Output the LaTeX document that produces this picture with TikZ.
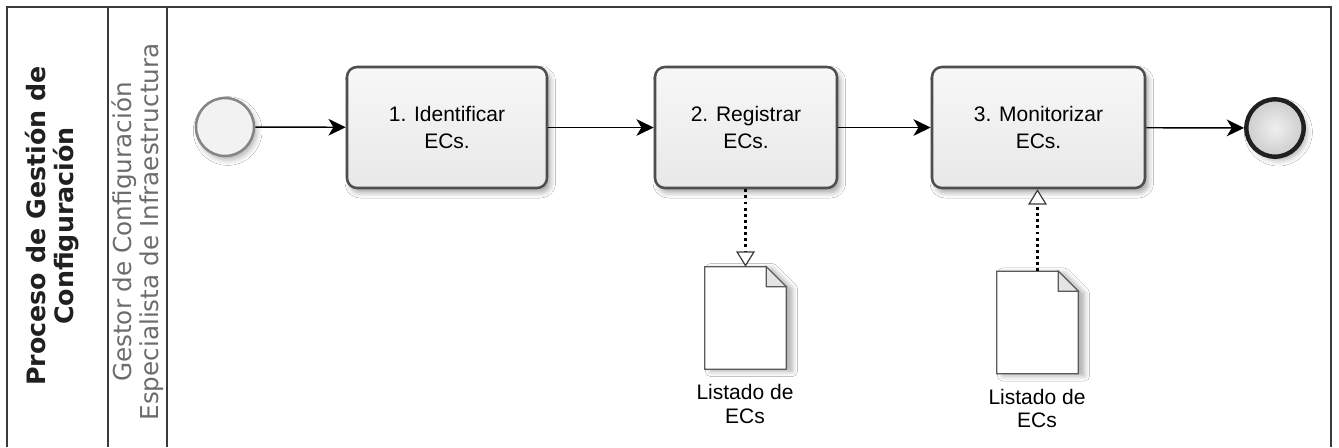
\documentclass[tikz,border=0pt]{standalone}
\usepackage{fontspec}
\setmainfont{Liberation Sans}
\newfontfamily\lanefont{DejaVu Sans}
\usetikzlibrary{arrows.meta,shadows.blur}

\definecolor{laneline}{HTML}{3A3A3A}
\definecolor{taskline}{HTML}{4E4E4E}
\definecolor{rolegray}{HTML}{6C6C6C}
\definecolor{titledark}{HTML}{202020}
\definecolor{docline}{HTML}{5A5A5A}
\definecolor{foldfill}{HTML}{E4E4E4}

\tikzset{
  lanerule/.style={draw=laneline, line width=1.5pt},
  tasklbl/.style={font=\fontsize{15.75pt}{20.25pt}\selectfont, align=center},
  taskbox/.style={rectangle, rounded corners=7.5pt, draw=taskline, line width=1.9pt,
    top color=white!97!black, bottom color=white!91!black, inner sep=0pt,
    minimum height=90.75pt, tasklbl,
    blur shadow={shadow xshift=2.5pt, shadow yshift=-3.5pt, shadow blur radius=4pt, shadow opacity=35}},
  startev/.style={circle, draw=white!52!black, line width=1.9pt, fill=white!95!black,
    minimum size=43.5pt, inner sep=0pt,
    blur shadow={shadow xshift=2pt, shadow yshift=-3pt, shadow blur radius=4pt, shadow opacity=30}},
  endev/.style={circle, draw=titledark, line width=3.3pt, inner color=white!94!black,
    outer color=white!80!black, minimum size=43pt, inner sep=0pt,
    blur shadow={shadow xshift=2.5pt, shadow yshift=-3pt, shadow blur radius=4pt, shadow opacity=30}},
  docslot/.style={rectangle, minimum width=60.75pt, minimum height=76.5pt, inner sep=0pt},
  docpaper/.style={draw=docline, line width=0.8pt, fill=white,
    blur shadow={shadow xshift=4.5pt, shadow yshift=-1.5pt, shadow blur radius=4pt, shadow opacity=32}},
  doclbl/.style={font=\fontsize{15.75pt}{17.5pt}\selectfont, align=center, inner sep=0pt},
  flow/.style={draw=black, line width=1.1pt, -{Stealth[length=13pt, width=12.5pt, inset=3.8pt]}},
  assoc/.style={draw=black, line width=2.2pt, dash pattern=on 2.2pt off 2.4pt,
    -{Triangle[open, fill=white, color=laneline, length=11.5pt, width=14pt, line width=0.9pt]}},
  titlelbl/.style={font=\lanefont\bfseries\fontsize{19pt}{21pt}\selectfont, text=titledark,
    align=center, rotate=90, inner sep=0pt},
  rolelbl/.style={font=\lanefont\fontsize{18.5pt}{20.25pt}\selectfont, text=rolegray,
    align=center, rotate=90, inner sep=0pt}
}

\newcommand{\dogear}[1]{%
  \path[docpaper] (#1.north west) -- ([xshift=-15pt]#1.north east)
    -- ([yshift=-15pt]#1.north east) -- (#1.south east) -- (#1.south west) -- cycle;
  \draw[docline, line width=0.8pt, fill=foldfill] ([xshift=-15pt]#1.north east)
    -- ([xshift=-15pt, yshift=-15pt]#1.north east) -- ([yshift=-15pt]#1.north east) -- cycle;
}

\begin{document}
\begin{tikzpicture}[x=0.75pt, y=-0.75pt]
\useasboundingbox[fill=white] (0,0) rectangle (1339,447);

% pool and lane borders
\draw[lanerule] (7,447) -- (7,7) -- (1331,7) -- (1331,447);
\draw[lanerule] (108,7) -- (108,447);
\draw[lanerule] (167,7) -- (167,447);

% pool and lane titles
\node[titlelbl] (pool) at (52,226) {Proceso de Gestión de\\Configuración};
\node[rolelbl] (role) at (137.5,232) {Gestor de Configuración\\Especialista de Infraestructura};

% events and activities
\node[startev] (start) at (225,127) {};
\node[taskbox, minimum width=150pt] (t1) at (447,127.5) {1. Identificar\\ECs.};
\node[taskbox, minimum width=136.5pt] (t2) at (746,127.5) {2. Registrar\\ECs.};
\node[taskbox, minimum width=159.75pt] (t3) at (1038.5,127.5) {3. Monitorizar\\ECs.};
\node[endev] (end) at (1275,128) {};

% data objects
\node[docslot] (doc1) at (745.5,318) {};
\node[docslot] (doc2) at (1037.5,322.5) {};
\dogear{doc1}
\dogear{doc2}
\node[doclbl] (doc1lbl) at (745,404) {Listado de\\ECs};
\node[doclbl] (doc2lbl) at (1037,408.5) {Listado de\\ECs};

% sequence flows
\draw[flow] (start) -- (t1);
\draw[flow] (t1) -- (t2);
\draw[flow] (t2) -- (t3);
\draw[flow] (t3) -- (end);

% data associations
\draw[assoc] (t2.south -| doc1.north) -- (doc1.north);
\draw[assoc] (doc2.north) -- (doc2.north |- t3.south);
\end{tikzpicture}
\end{document}
